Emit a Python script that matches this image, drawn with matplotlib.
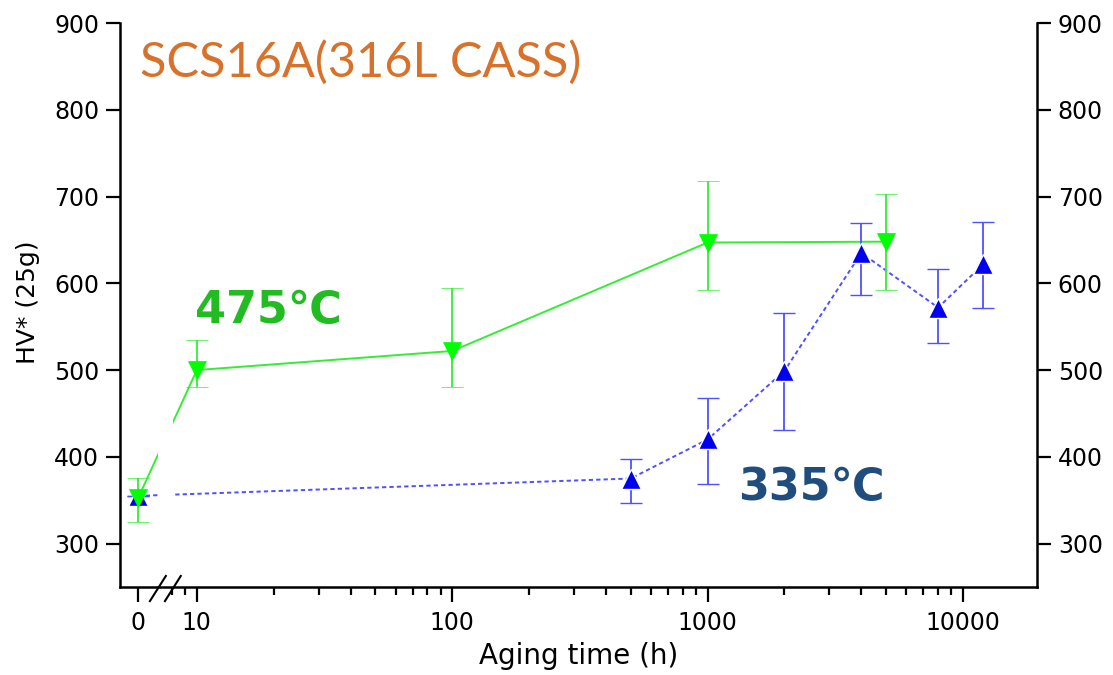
import numpy as np
import matplotlib
matplotlib.use("Agg")
import matplotlib.pyplot as plt
import matplotlib.transforms as mtransforms

# Vickers hardness vs aging time for SCS16A (316L cast stainless)
# time 0 is drawn at a stand-in position left of the axis break
ZERO_POS = 5.9

t_475 = [0, 10, 100, 1000, 5000]
hv_475 = [353, 500, 522, 647, 648]
hv_475_lo = [325, 481, 481, 592, 592]
hv_475_hi = [376, 535, 595, 718, 703]

t_335 = [0, 500, 1000, 2000, 4000, 8000, 12000]
hv_335 = [355, 375, 420, 499, 635, 572, 622]
hv_335_lo = [355, 347, 369, 431, 587, 531, 571]
hv_335_hi = [355, 398, 468, 566, 669, 617, 671]

xtick_pos = [ZERO_POS, 10, 100, 1000, 10000]
xtick_labels = ["0", "10", "100", "1000", "10000"]
yticks = [300, 400, 500, 600, 700, 800, 900]


def to_pos(t):
    return np.array([ZERO_POS if v == 0 else v for v in t], dtype=float)


green = "#33ee33"
green_mk = "#00ff00"
blue = "#5050ff"
blue_mk = "#0000ee"

fig = plt.figure(figsize=(11.13, 6.75), dpi=100)
ax = fig.add_axes([0.1078, 0.1304, 0.8239, 0.8355])

ax.set_xscale("log")
ax.set_xlim(5.0, 19500)
ax.set_ylim(250, 900)

x475 = to_pos(t_475)
x335 = to_pos(t_335)

# connecting lines
ax.plot(x475, hv_475, color=green, lw=1.4, zorder=2)
ax.plot(x335, hv_335, color=blue, lw=1.4, ls=(0, (2.2, 1.6)), zorder=2)

# white gap where the lines cross the axis break
ax.axvspan(7.05, 8.05, color="white", lw=0, zorder=2.5)

# error bars and markers
err475 = [np.array(hv_475) - np.array(hv_475_lo), np.array(hv_475_hi) - np.array(hv_475)]
err335 = [np.array(hv_335) - np.array(hv_335_lo), np.array(hv_335_hi) - np.array(hv_335)]
ax.errorbar(x335, hv_335, yerr=err335, fmt="^", ms=14, color=blue_mk,
            mec="white", mew=1.0, ecolor=blue, elinewidth=1.3, capsize=8,
            capthick=1.3, zorder=3)
ax.errorbar(x475, hv_475, yerr=err475, fmt="v", ms=13, color=green_mk,
            mec=green_mk, mew=0.5, ecolor=green, elinewidth=1.3, capsize=8,
            capthick=1.3, zorder=4)

# axes styling
ax.spines["top"].set_visible(False)
for s in ["left", "right", "bottom"]:
    ax.spines[s].set_linewidth(1.8)

ax.set_xticks(xtick_pos)
ax.set_xticklabels(xtick_labels)
minor = [8, 9] + [m * d for d in (10, 100, 1000) for m in range(2, 10)]
ax.set_xticks(minor, minor=True)
ax.xaxis.set_minor_formatter(matplotlib.ticker.NullFormatter())
ax.set_yticks(yticks)
ax.tick_params(axis="y", which="both", left=True, right=True,
               labelleft=True, labelright=True, direction="out",
               length=10, width=1.6, labelsize=17, pad=5)
ax.tick_params(axis="x", which="major", direction="out", length=11,
               width=1.6, labelsize=17, pad=6)
ax.tick_params(axis="x", which="minor", direction="out", length=6, width=1.6)

# break marks on the x axis
trans = mtransforms.blended_transform_factory(ax.transData, ax.transAxes)
for x0, x1 in [(6.55, 7.56), (7.50, 8.65)]:
    ax.plot([x0, x1], [-0.025, 0.0195], color="black", lw=1.5,
            transform=trans, clip_on=False, zorder=5)

ax.set_xlabel("Aging time (h)", fontsize=20)
ax.xaxis.set_label_coords(0.5, -0.097)
ax.set_ylabel("HV* (25g)", fontsize=18)
ax.yaxis.set_label_coords(-0.087, 0.504)

ax.text(0.022, 0.93, "SCS16A(316L CASS)", transform=ax.transAxes,
        fontsize=35, color="#d8722a", family=["Lato", "DejaVu Sans"],
        va="center", ha="left")
ax.text(0.082, 0.491, "475\u2103", transform=ax.transAxes, fontsize=32,
        fontweight="bold", color="#22bb22", va="center", ha="left")
ax.text(0.674, 0.176, "335\u2103", transform=ax.transAxes, fontsize=32,
        fontweight="bold", color="#1f4e7e", va="center", ha="left")

fig.savefig("out.png", dpi=100)
